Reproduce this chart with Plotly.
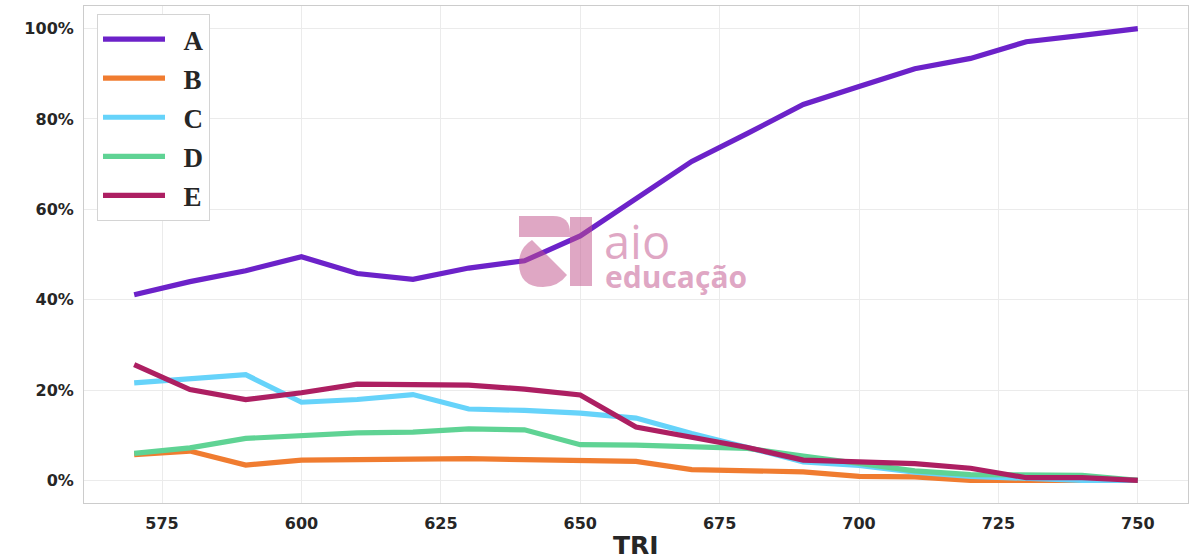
import plotly.graph_objects as go

tri = [570, 580, 590, 600, 610, 620, 630, 640, 650, 660, 670, 680, 690, 700, 710, 720, 730, 740, 750]

serie_a = [0.411, 0.440, 0.464, 0.495, 0.458, 0.445, 0.470, 0.486, 0.541, 0.623, 0.706, 0.768, 0.832, 0.872, 0.911, 0.934, 0.971, 0.985, 1.000]
serie_b = [0.057, 0.065, 0.034, 0.045, 0.046, 0.048, 0.048, 0.046, 0.045, 0.042, 0.024, 0.022, 0.019, 0.009, 0.008, 0.000, 0.000, 0.000, 0.000]
serie_c = [0.216, 0.224, 0.234, 0.173, 0.179, 0.190, 0.158, 0.155, 0.149, 0.138, 0.104, 0.073, 0.041, 0.033, 0.018, 0.009, 0.004, 0.000, 0.000]
serie_d = [0.060, 0.072, 0.093, 0.098, 0.105, 0.107, 0.114, 0.112, 0.079, 0.078, 0.075, 0.071, 0.054, 0.038, 0.021, 0.013, 0.012, 0.011, 0.000]
serie_e = [0.256, 0.201, 0.179, 0.194, 0.213, 0.212, 0.211, 0.202, 0.189, 0.118, 0.095, 0.073, 0.045, 0.041, 0.037, 0.027, 0.006, 0.006, 0.000]

nomes = ["A", "B", "C", "D", "E"]
series = [serie_a, serie_b, serie_c, serie_d, serie_e]
cores = ["#6c22c9", "#f07c30", "#66d3fa", "#5fd394", "#ad1f62"]

fig = go.Figure()
for nome, ys, cor in zip(nomes, series, cores):
    fig.add_trace(go.Scatter(x=tri, y=ys, mode="lines", name="\u2002" + nome, legendgroup=nome,
                             line=dict(color=cor, width=5.2)))

# plot area in pixels: x 84..1188, y 6..503
L, R, T, B = 84, 1188, 6, 503
def px(x):
    return (x - L) / (R - L)
def py(y):
    return (B - y) / (B - T)

logo_col = "rgba(192,80,138,0.5)"
shapes = []
# top piece of mark
shapes.append(dict(type="path", xref="paper", yref="paper", layer="above",
    path=f"M{px(519)},{py(216)} L{px(553)},{py(216)} Q{px(570)},{py(216)} {px(570)},{py(233)} L{px(570)},{py(237)} L{px(519)},{py(237)} Z",
    fillcolor=logo_col, line=dict(width=0)))
# bottom pie piece
shapes.append(dict(type="path", xref="paper", yref="paper", layer="above",
    path=f"M{px(532)},{py(240)} L{px(567)},{py(275)} Q{px(558)},{py(287)} {px(543)},{py(287)} Q{px(519)},{py(287)} {px(519)},{py(263)} Q{px(519)},{py(248)} {px(532)},{py(240)} Z",
    fillcolor=logo_col, line=dict(width=0)))
# vertical bar
shapes.append(dict(type="rect", xref="paper", yref="paper", layer="above",
    x0=px(570), x1=px(592), y0=py(286), y1=py(217),
    fillcolor=logo_col, line=dict(width=0)))

annotations = [
    dict(text="aio", xref="paper", yref="paper", x=px(602), y=py(241), xanchor="left", yanchor="middle",
         showarrow=False, font=dict(family="Open Sans", size=47, color=logo_col, weight=400)),
    dict(text="educação", xref="paper", yref="paper", x=px(603), y=py(276), xanchor="left", yanchor="middle",
         showarrow=False, font=dict(family="Open Sans", size=30, color=logo_col, weight="bold")),
    dict(text="TRI", xref="paper", yref="paper", x=px(636), y=py(545), xanchor="center", yanchor="middle",
         showarrow=False, font=dict(family="DejaVu Sans", size=25, color="#262626", weight="bold")),
]

fig.update_layout(
    width=1200, height=560,
    margin=dict(l=L, r=1200 - R, t=T, b=560 - B, autoexpand=False),
    plot_bgcolor="white", paper_bgcolor="white",
    font=dict(family="DejaVu Sans", color="#262626"),
    shapes=shapes, annotations=annotations,
    legend=dict(x=px(97), y=py(14), xanchor="left", yanchor="top",
                bgcolor="white", bordercolor="#d4d4d4", borderwidth=1,
                tracegroupgap=1, itemwidth=62,
                font=dict(family="Liberation Serif", size=27, color="#262626", weight="bold")),
    showlegend=True,
)
fig.update_xaxes(
    range=[561, 759], tickvals=[575, 600, 625, 650, 675, 700, 725, 750],
    showgrid=True, gridcolor="#ebebeb", gridwidth=1, zeroline=False,
    showline=True, linecolor="#cccccc", linewidth=1, mirror=True, automargin=False,
    ticks="", ticklabelstandoff=6, tickfont=dict(size=16, weight="bold", color="#262626"),
)
fig.update_yaxes(
    range=[-0.05, 1.05], tickvals=[0, 0.2, 0.4, 0.6, 0.8, 1.0], tickformat=".0%",
    showgrid=True, gridcolor="#ebebeb", gridwidth=1, zeroline=False,
    showline=True, linecolor="#cccccc", linewidth=1, mirror=True, automargin=False,
    ticks="", ticklabelstandoff=6, tickfont=dict(size=16, weight="bold", color="#262626"),
)

fig.write_html("out.html", config={"displayModeBar": False},
               post_script="document.body.style.margin='0';")
